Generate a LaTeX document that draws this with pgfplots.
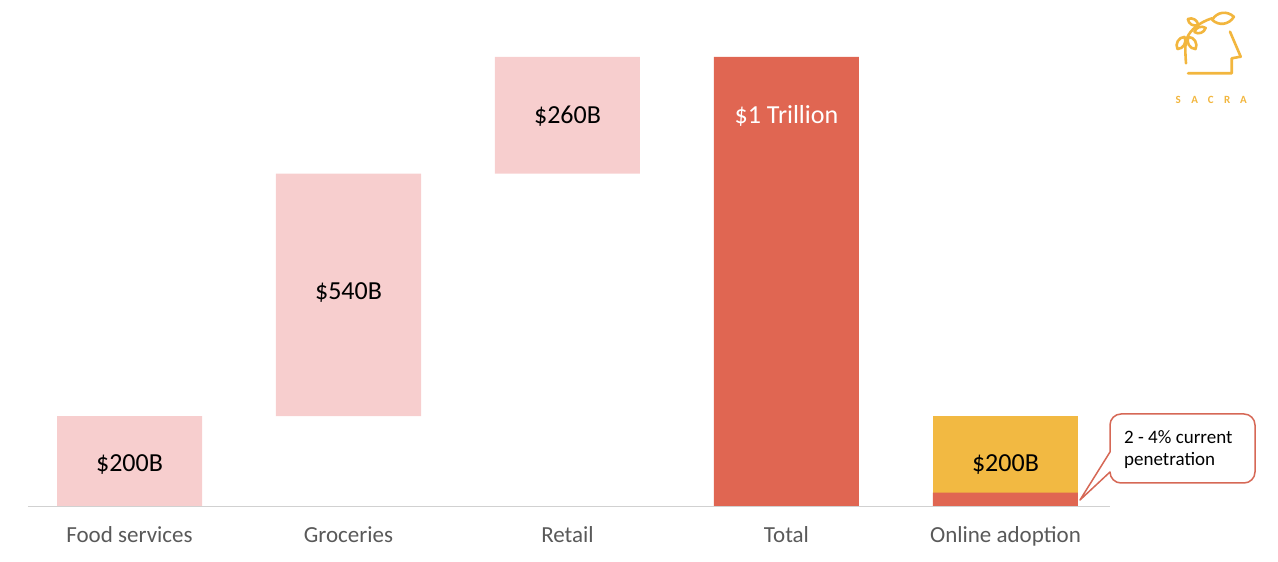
\documentclass[border=0pt]{standalone}
\usepackage{pgfplots}
\pgfplotsset{compat=1.18}
\usepackage{fontspec}
\setmainfont{Carlito}
\definecolor{pinkbar}{RGB}{247,206,206}
\definecolor{redbar}{RGB}{224,102,82}
\definecolor{yelbar}{RGB}{242,185,66}
\definecolor{lbl}{RGB}{89,89,89}
\definecolor{logo}{RGB}{242,182,62}
\definecolor{callout}{RGB}{214,104,86}
\begin{document}
\begin{tikzpicture}[x=1pt,y=1pt]
\path[use as bounding box] (0,0) rectangle (1278,562);
\begin{axis}[
  at={(28pt,56pt)}, anchor=south west,
  scale only axis, width=1082pt, height=449pt,
  xmin=-0.4635, xmax=4.4772, ymin=0, ymax=1000,
  ybar stacked, bar width=145pt,
  axis y line=none, axis x line*=bottom,
  x axis line style={draw=black!18, -},
  xtick={0,...,4},
  xticklabels={Food services,Groceries,Retail,Total,Online adoption},
  major tick length=0pt,
  xticklabel style={font=\fontsize{23}{27}\selectfont, text=lbl, anchor=base, yshift=-37pt},
  clip=false,
]
\addplot[fill=none, draw=none] coordinates {(0,0)(1,200)(2,740)(3,0)(4,0)};
\addplot[fill=pinkbar, draw=none] coordinates {(0,200)(1,540)(2,260)(3,0)(4,0)};
\addplot[fill=redbar, draw=none] coordinates {(0,0)(1,0)(2,0)(3,1000)(4,30)};
\addplot[fill=yelbar, draw=none] coordinates {(0,0)(1,0)(2,0)(3,0)(4,170)};
\coordinate (l0) at (axis cs:0,93);
\coordinate (l1) at (axis cs:1,476);
\coordinate (l2) at (axis cs:2,869);
\coordinate (l3) at (axis cs:3,869);
\coordinate (l4) at (axis cs:4,93);
\end{axis}
\node[font=\fontsize{26}{30}\selectfont, text=black] at (l0) {\$200B};
\node[font=\fontsize{26}{30}\selectfont, text=black] at (l1) {\$540B};
\node[font=\fontsize{26}{30}\selectfont, text=black] at (l2) {\$260B};
\node[font=\fontsize{26}{30}\selectfont, text=white] at (l3) {\$1 Trillion};
\node[font=\fontsize{26}{30}\selectfont, text=black] at (l4) {\$200B};
% callout
\draw[callout, line width=1.5pt, fill=white, line join=round]
  (1110,110) [rounded corners=11pt]-- (1110,148) -- (1255,148) -- (1255,79) -- (1110,79) [sharp corners]-- (1110,90) -- (1080,62) -- cycle;
\node[anchor=base west, inner sep=0, font=\fontsize{19}{22}\selectfont] at (1124,118) {2 - 4\% current};
\node[anchor=base west, inner sep=0, font=\fontsize{19}{22}\selectfont] at (1124,96) {penetration};
% logo
\begin{scope}[logo, line width=2.6pt, line cap=round, line join=round]
\draw (1230,530.3) -- (1240.7,505.3) -- (1231.7,503.7) -- (1231.7,488.7) -- (1188,488.7);
\draw (1186,498.7) .. controls (1185,512) and (1185,520) .. (1187,524) .. controls (1190,532) and (1200,540) .. (1212,543.7);
\draw[rotate around={8:(1223,543.7)}] (1212,543.7) .. controls (1218,551) and (1228,551) .. (1234,543.7) .. controls (1228,536.4) and (1218,536.4) .. (1212,543.7);
\draw[rotate around={-30:(1193,540)}] (1187,540) .. controls (1190,544) and (1196,544) .. (1199,540) .. controls (1196,536) and (1190,536) .. (1187,540);
\draw[rotate around={20:(1200,532)}] (1194,532) .. controls (1197,536) and (1203,536) .. (1206,532) .. controls (1203,528) and (1197,528) .. (1194,532);
\draw[rotate around={60:(1181,519)}] (1174,519) .. controls (1177,524) and (1185,524) .. (1188,519) .. controls (1185,514) and (1177,514) .. (1174,519);
\draw[rotate around={-60:(1192,519)}] (1185,519) .. controls (1188,524) and (1196,524) .. (1199,519) .. controls (1196,514) and (1188,514) .. (1185,519);
\end{scope}
\foreach \l [count=\i] in {S,A,C,R,A}
  \node[text=logo, font=\fontsize{11}{13}\selectfont\bfseries] at (1162+\i*16.3,462) {\l};
\end{tikzpicture}
\end{document}
